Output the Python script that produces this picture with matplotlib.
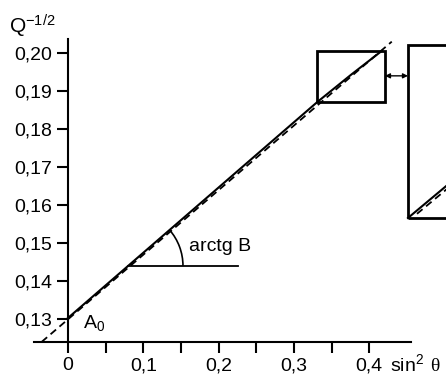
import numpy as np
import matplotlib.pyplot as plt
from matplotlib.patches import Rectangle, Arc

plt.rcParams['font.family'] = ['Liberation Sans', 'DejaVu Sans']
plt.rcParams['mathtext.fontset'] = 'custom'
plt.rcParams['mathtext.rm'] = 'Liberation Sans'
plt.rcParams['mathtext.default'] = 'regular'

# data
x_ticks = [0.0, 0.1, 0.2, 0.3, 0.4]
x_minor = [0.05, 0.15, 0.25, 0.35]
y_ticks = [0.13, 0.14, 0.15, 0.16, 0.17, 0.18, 0.19, 0.20]

solid_x = [0.0, 0.331, 0.376, 0.417]
solid_y = [0.1304, 0.1872, 0.1944, 0.2007]

dash_x = [-0.035, 0.430]
dash_y = [0.1241, 0.2031]

# zoom box and its enlarged view
box_x, box_y, box_w, box_h = 0.331, 0.1872, 0.090, 0.0135
big_x, big_y, big_w, big_h = 0.4515, 0.1567, 0.20, 0.0455
big_solid_x = [0.4515, 0.60]
big_solid_y = [0.1567, 0.1813]
big_dash_x = [0.4635, 0.60]
big_dash_y = [0.1578, 0.1802]

# angle mark
angle_x0, angle_y0 = 0.0797, 0.1441
angle_x1 = 0.226
slope = 0.1716

fig = plt.figure(figsize=(4.46, 3.74), dpi=100)
ax = fig.add_axes([0.0765, 0.0856, 0.8441, 0.8102])
ax.set_xlim(-0.045, 0.455)
ax.set_ylim(0.12408, 0.2038)

ax.spines['top'].set_visible(False)
ax.spines['right'].set_visible(False)
ax.spines['left'].set_position(('data', 0))
for s in ('left', 'bottom'):
    ax.spines[s].set_linewidth(1.5)

ax.set_xticks(x_ticks)
ax.set_xticklabels(['0' if v == 0 else f'{v:.1f}'.replace('.', ',') for v in x_ticks])
ax.set_xticks(x_minor, minor=True)
ax.set_yticks(y_ticks)
ax.set_yticklabels([f'{v:.2f}'.replace('.', ',') for v in y_ticks])
ax.tick_params(which='both', direction='out', length=8, width=1.5, labelsize=14)
ax.tick_params(axis='x', pad=3)
ax.tick_params(axis='y', pad=3.5)

# lines
ax.plot(dash_x, dash_y, color='black', lw=1.3, dashes=(4, 2.5), zorder=2)
ax.plot(solid_x, solid_y, color='black', lw=1.5, zorder=3)

# angle
ax.plot([angle_x0, angle_x1], [angle_y0, angle_y0], color='black', lw=1.3)
ax.add_patch(Arc((angle_x0, angle_y0), 0.146, 0.0289, theta1=0,
                 theta2=np.degrees(np.arctan(slope)), color='black', lw=1.2))
ax.text(0.1607, 0.1493, 'arctg B', fontsize=14, va='center', ha='left')
ax.text(0.020, 0.1291, r'$A_0$', fontsize=14, va='center', ha='left')

# boxes
ax.add_patch(Rectangle((box_x, box_y), box_w, box_h, fill=False, lw=2,
                       ec='black', zorder=4))
ax.add_patch(Rectangle((big_x, big_y), big_w, big_h, fill=False, lw=2,
                       ec='black', clip_on=False, zorder=4))
ax.plot(big_solid_x, big_solid_y, color='black', lw=1.5, clip_on=False)
ax.plot(big_dash_x, big_dash_y, color='black', lw=1.3, dashes=(4, 2.5),
        clip_on=False)
ax.annotate('', xy=(box_x + box_w, 0.1941), xytext=(big_x, 0.1941),
            arrowprops=dict(arrowstyle='<|-|>', lw=1, color='black',
                            mutation_scale=7, shrinkA=0, shrinkB=0),
            annotation_clip=False)

# axis titles
fig.text(9 / 446, 1 - 34 / 374, r'$Q^{-1/2}$', fontsize=15, va='baseline')
fig.text(390 / 446, 1 - 371 / 374, 'sin$^2$', fontsize=14, va='baseline')
fig.text(430 / 446, 1 - 371 / 374, 'θ', fontsize=14, va='baseline',
         family=['Liberation Serif', 'DejaVu Serif'])

fig.savefig('out.png', dpi=100)
